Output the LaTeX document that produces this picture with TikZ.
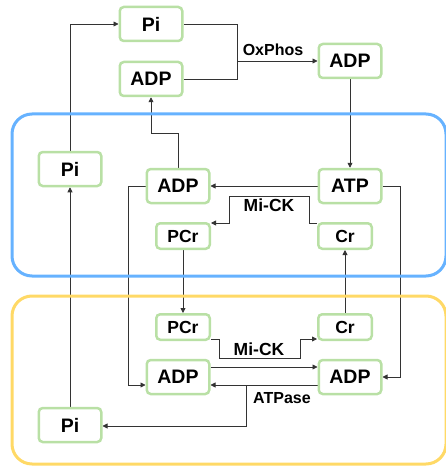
\documentclass[tikz,border=0pt]{standalone}
\usepackage{fontspec}
\setmainfont{Liberation Sans}
\usetikzlibrary{arrows.meta}
\pgfdeclarelayer{background}
\pgfsetlayers{background,main}
\definecolor{boxgreen}{HTML}{B9E0A5}
\definecolor{blueframe}{HTML}{66B2FF}
\definecolor{yellowframe}{HTML}{FFD966}
\definecolor{lineclr}{HTML}{333333}
\begin{document}
\begin{tikzpicture}[x=1pt,y=-1pt,
  box/.style={draw=boxgreen, line width=2.5pt, rounded corners=4pt, fill=white,
    minimum width=62.5pt, minimum height=34pt, inner sep=0pt,
    font=\fontsize{19.5}{22}\selectfont\bfseries},
  sbox/.style={box, minimum width=53.5pt, minimum height=25.5pt,
    font=\fontsize{17.5}{20}\selectfont\bfseries},
  conn/.style={draw=lineclr, line width=0.8pt},
  arr/.style={conn, -{Triangle[length=5pt,width=5pt]}},
  lbl/.style={font=\fontsize{16}{18}\selectfont\bfseries, inner sep=0pt},
  biglbl/.style={lbl, font=\fontsize{17.5}{20}\selectfont\bfseries},
  frame/.style={line width=3pt, rounded corners=20pt}
]
\useasboundingbox (0,0) rectangle (446,468);

% nodes
\node[box] (piT)  at (151,24)  {Pi};
\node[box] (adpT) at (151,79)  {ADP};
\node[box] (adpO) at (350,61)  {ADP};
\node[box] (piL)  at (70,169)  {Pi};
\node[box] (adpM) at (178,186) {ADP};
\node[box] (atp)  at (350,186) {ATP};
\node[sbox] (pcrM) at (183,236) {PCr};
\node[sbox] (crM)  at (345,236) {Cr};
\node[sbox] (pcrB) at (183,327) {PCr};
\node[sbox] (crB)  at (345,327) {Cr};
\node[box] (adpBL) at (178,377) {ADP};
\node[box] (adpBR) at (350,377) {ADP};
\node[box] (piB)  at (70,425)  {Pi};

% labels
\node[lbl] (lox)  at (273,50)  {OxPhos};
\node[biglbl] (lmi1) at (269,205) {Mi-CK};
\node[biglbl] (lmi2) at (259,349) {Mi-CK};
\node[lbl] (latp) at (282,398) {ATPase};

% helper coordinates
\coordinate (ox) at (237,61);
\coordinate (up1) at (178,133);
\coordinate (la) at (128,385);
\coordinate (ra) at (400,377);
\coordinate (m1a) at (309,223);
\coordinate (m1b) at (309,196);
\coordinate (m1c) at (229,196);
\coordinate (m1d) at (229,223);
\coordinate (m2a) at (219,339);
\coordinate (m2b) at (219,358);
\coordinate (m2c) at (300,358);
\coordinate (m2d) at (300,339);
\coordinate (atu) at (246,367);
\coordinate (atl) at (246,385);
\coordinate (atd) at (246,426);

\begin{pgfonlayer}{background}
\draw[arr] (piL.north) |- (piT.west);
\draw[conn] (piT.east) -| (ox);
\draw[conn] (adpT.east) -| (ox);
\draw[arr] (ox) -- (adpO.west);
\draw[arr] (adpM.north) -- (up1) -| (adpT.south);
\draw[arr] (adpO.south) -- (atp.north);
\draw[arr] (atp.west) -- (adpM.east);
\draw[arr] (crM.west |- m1a) -- (m1a) -- (m1b) -- (m1c) -- (m1d) -- (pcrM.east |- m1d);
\draw[arr] (pcrM.south) -- (pcrB.north);
\draw[arr] (crB.north) -- (crM.south);
\draw[arr] (adpM.west) -| (la) -- (adpBL.west |- la);
\draw[arr] (atp.east) -| (ra) -- (adpBR.east);
\draw[arr] (pcrB.east |- m2a) -- (m2a) -- (m2b) -- (m2c) -- (m2d) -- (crB.west |- m2d);
\draw[arr] (adpBL.east |- atu) -- (adpBR.west |- atu);
\draw[arr] (adpBR.west |- atl) -- (adpBL.east |- atl);
\draw[arr] (atl) -- (atd) -- (piB.east |- atd);
\draw[arr] (piB.north) -- (piL.south);
\end{pgfonlayer}

% frames
\draw[frame, draw=blueframe] (12,114) rectangle (446,276);
\draw[frame, draw=yellowframe] (12,296) rectangle (446,464);
\end{tikzpicture}
\end{document}
